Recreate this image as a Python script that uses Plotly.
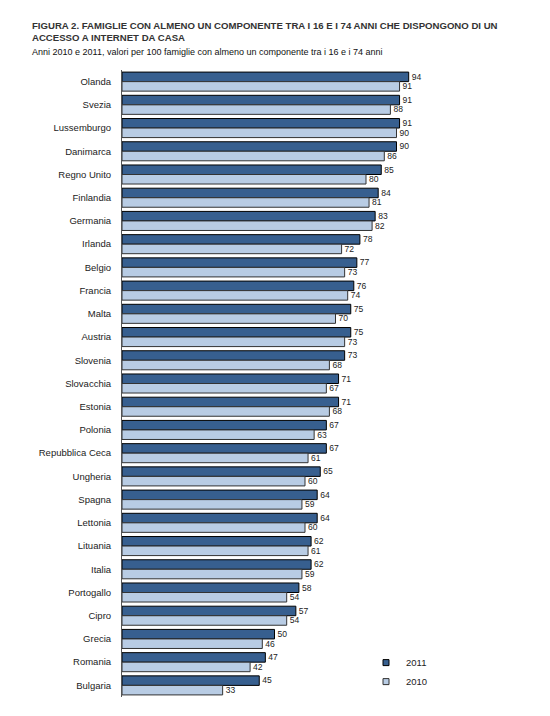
import plotly.graph_objects as go

countries = ["Olanda", "Svezia", "Lussemburgo", "Danimarca", "Regno Unito", "Finlandia",
             "Germania", "Irlanda", "Belgio", "Francia", "Malta", "Austria", "Slovenia",
             "Slovacchia", "Estonia", "Polonia", "Repubblica Ceca", "Ungheria", "Spagna",
             "Lettonia", "Lituania", "Italia", "Portogallo", "Cipro", "Grecia", "Romania",
             "Bulgaria"]
v2011 = [94, 91, 91, 90, 85, 84, 83, 78, 77, 76, 75, 75, 73, 71, 71, 67, 67, 65, 64, 64,
         62, 62, 58, 57, 50, 47, 45]
v2010 = [91, 88, 90, 86, 80, 81, 82, 72, 73, 74, 70, 73, 68, 67, 68, 63, 61, 60, 59, 60,
         61, 59, 54, 54, 46, 42, 33]

font = "Liberation Sans, Arial"
c2011, c2010 = "#375F8F", "#B8CCE4"

fig = go.Figure()
fig.add_trace(go.Bar(y=countries, x=v2011, orientation="h", name="2011", showlegend=False,
                     marker=dict(color=c2011, line=dict(color="#000000", width=1)),
                     text=v2011, textposition="outside", cliponaxis=False,
                     textfont=dict(size=9, color="#222")))
fig.add_trace(go.Bar(y=countries, x=v2010, orientation="h", name="2010", showlegend=False,
                     marker=dict(color=c2010, line=dict(color="#333333", width=1)),
                     text=v2010, textposition="outside", cliponaxis=False,
                     textfont=dict(size=9, color="#222")))
# legend entries with small square swatches
fig.add_trace(go.Scatter(x=[None], y=[None], mode="markers", name="2011",
                         marker=dict(symbol="square", size=6, color=c2011,
                                     line=dict(color="#000", width=1))))
fig.add_trace(go.Scatter(x=[None], y=[None], mode="markers", name="2010",
                         marker=dict(symbol="square", size=6, color=c2010,
                                     line=dict(color="#333", width=1))))

fig.update_layout(
    width=550, height=716,
    margin=dict(l=122, r=123, t=70, b=19),
    barmode="group", bargap=0.18, bargroupgap=0,
    plot_bgcolor="white", paper_bgcolor="white",
    font=dict(family=font, size=10, color="#222"),
    showlegend=True,
    legend=dict(x=0.80, xanchor="left", y=0.078, yanchor="top", xref="paper", yref="paper",
                font=dict(size=9.5), itemwidth=30, tracegroupgap=0,
                bgcolor="rgba(0,0,0,0)"),
    annotations=[
        dict(text="<b>FIGURA 2. FAMIGLIE CON ALMENO UN COMPONENTE TRA I 16 E I 74 ANNI CHE DISPONGONO DI UN<br>ACCESSO A INTERNET DA CASA</b>",
             x=0, y=1, xref="paper", yref="paper", xanchor="left", yanchor="top",
             xshift=-122 + 30, yshift=70 - 18, align="left", showarrow=False,
             font=dict(size=9.6, family=font, color="#333")),
        dict(text="Anni 2010 e 2011, valori per 100 famiglie con almeno un componente tra i 16 e i 74 anni",
             x=0, y=1, xref="paper", yref="paper", xanchor="left", yanchor="top",
             xshift=-122 + 30, yshift=70 - 45, align="left", showarrow=False,
             font=dict(size=9, family=font, color="#111")),
    ],
)
fig.update_xaxes(range=[0, 100], visible=False, showgrid=False, zeroline=False)
fig.update_yaxes(autorange="reversed", showline=True, linecolor="#555", linewidth=1,
                 ticks="", ticklabelstandoff=8, showgrid=False,
                 tickfont=dict(size=9.5, family=font, color="#222"))

fig.write_html("out.html")
